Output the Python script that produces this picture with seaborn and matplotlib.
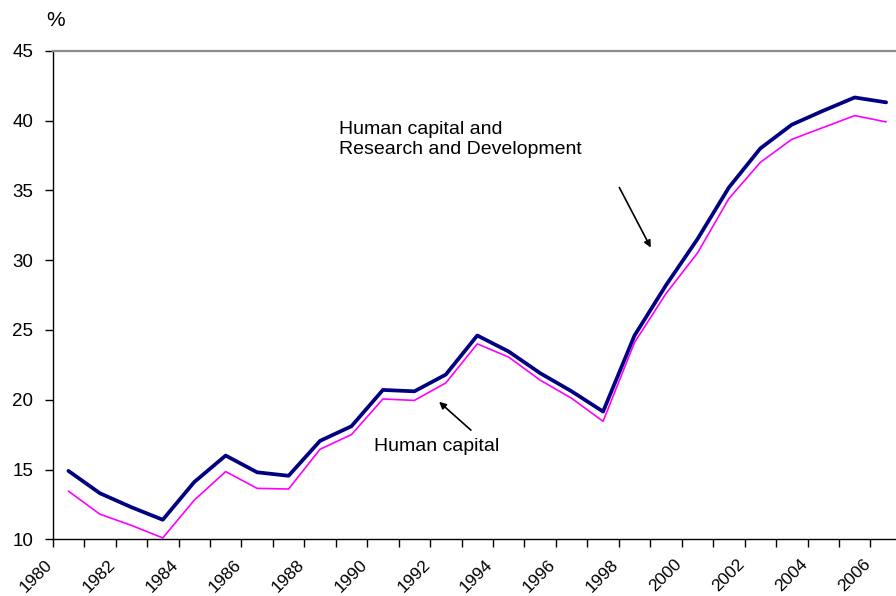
import numpy as np
import pandas as pd
import matplotlib
matplotlib.use("Agg")
import matplotlib.pyplot as plt
import matplotlib.transforms as mtransforms
import seaborn as sns

years = list(range(1980, 2007))
hc_rd = [14.9, 13.3, 12.3, 11.4, 14.1, 16.0, 14.8, 14.55, 17.05, 18.1,
         20.7, 20.6, 21.8, 24.6, 23.45, 21.9, 20.6, 19.15, 24.6, 28.2,
         31.5, 35.2, 38.0, 39.7, 40.7, 41.65, 41.3]
hc = [13.45, 11.8, 11.0, 10.1, 12.8, 14.85, 13.65, 13.6, 16.45, 17.5,
      20.05, 19.95, 21.2, 24.0, 23.05, 21.4, 20.1, 18.45, 24.1, 27.6,
      30.5, 34.4, 37.0, 38.65, 39.5, 40.35, 39.9]
series_names = ["Human capital and\nResearch and Development", "Human capital"]
y_ticks = [10, 15, 20, 25, 30, 35, 40, 45]

sns.set_theme(style="white")
plt.rcParams['font.family'] = ['Liberation Sans', 'DejaVu Sans']
plt.rcParams['text.color'] = 'black'
plt.rcParams['xtick.color'] = 'black'
plt.rcParams['ytick.color'] = 'black'

pos = np.arange(len(years))
df = pd.DataFrame({
    "pos": np.concatenate([pos, pos]),
    "value": hc_rd + hc,
    "series": [series_names[0]] * len(years) + [series_names[1]] * len(years),
})

fig = plt.figure(figsize=(8.96, 5.96), dpi=100)
ax = fig.add_axes([52.7 / 896, 1 - 539.3 / 596, (27 * 31.45) / 896, (539.3 - 50.7) / 596])

sns.lineplot(data=df, x="pos", y="value", hue="series", size="series",
             palette={series_names[0]: "#000080", series_names[1]: "#FF00FF"},
             sizes={series_names[0]: 2.7, series_names[1]: 1.2},
             legend=False, ax=ax)

ax.set_xlim(-0.5, len(years) - 0.5)
ax.set_ylim(10, 45)
ax.set_xlabel("")
ax.set_ylabel("")

# spines
for s in ["left", "bottom"]:
    ax.spines[s].set_color("black")
    ax.spines[s].set_linewidth(1.0)
ax.spines["top"].set_color("#8c8c8c")
ax.spines["top"].set_linewidth(1.6)
ax.spines["right"].set_visible(False)

# y ticks
ax.set_yticks(y_ticks)
ax.set_yticklabels([str(v) for v in y_ticks])
ax.tick_params(axis="y", direction="out", length=6, width=1, color="black",
               labelsize=13.5, pad=8, left=True, labelcolor="black")

# x ticks: boundaries as major ticks, labels at centers (minor)
ax.set_xticks(np.arange(-0.5, len(years) - 0.5, 1.0))
ax.set_xticklabels([])
ax.tick_params(axis="x", which="major", direction="out", length=6, width=1,
               color="black", bottom=True)
lab_pos = [p for p, y in zip(pos, years) if y % 2 == 0]
lab_txt = [str(y) for y in years if y % 2 == 0]
ax.set_xticks(lab_pos, minor=True)
ax.set_xticklabels(lab_txt, minor=True, rotation=45, ha="right", va="top",
                   fontsize=12.5, color="black")
ax.tick_params(axis="x", which="minor", length=0, pad=12.5, bottom=True)
offset = mtransforms.ScaledTranslation(-13 / 100, 0, fig.dpi_scale_trans)
for lbl in ax.get_xticklabels(minor=True):
    lbl.set_transform(lbl.get_transform() + offset)

ax.grid(False)

fig.text(56 / 896, 1 - 20 / 596, "%", fontsize=15, ha="center", va="center")

# annotations
def px_to_data(xp, yp):
    return (xp - 68.4) / 31.45, 10 + (539.3 - yp) / 13.96

ax.text(*px_to_data(339, 121), series_names[0], fontsize=14, ha="left",
        va="top", linespacing=1.25)
ax.annotate("", xy=px_to_data(652, 250), xytext=px_to_data(618, 185),
            arrowprops=dict(arrowstyle="-|>", color="black", lw=1.2,
                            mutation_scale=10))
ax.text(*px_to_data(437, 446), series_names[1], fontsize=14, ha="center",
        va="center")
ax.annotate("", xy=px_to_data(437, 400), xytext=px_to_data(473, 432),
            arrowprops=dict(arrowstyle="-|>", color="black", lw=1.2,
                            mutation_scale=10))

fig.savefig("out.png", dpi=100)
